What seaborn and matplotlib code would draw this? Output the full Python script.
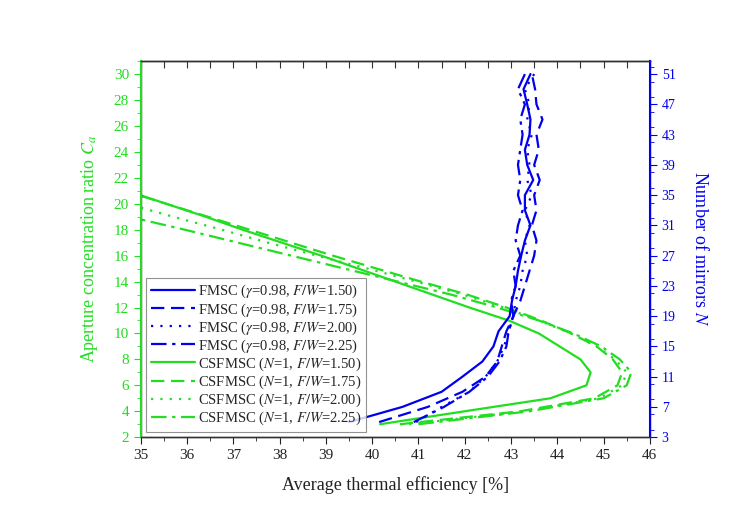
import numpy as np
import pandas as pd
import matplotlib
matplotlib.use('Agg')
import matplotlib.pyplot as plt
import seaborn as sns
from matplotlib.ticker import MultipleLocator

# CSFMSC curves: aperture concentration ratio Ca vs efficiency
ca_values = [3, 4, 5, 6, 7, 8, 9, 10, 11, 12, 13, 14, 15, 16, 17, 18, 19, 20, 21]
eff_cs_150 = [40.17, 42.0, 43.85, 44.63, 44.72, 44.5, 44.05, 43.6, 42.95, 42.1,
              41.3, 40.5, 39.7, 38.9, 38.05, 37.2, 36.4, 35.55, 34.7]
eff_cs_175 = [40.6, 43.2, 44.8, 45.3, 45.4, 45.2, 44.85, 44.3, 43.65, 42.9,
              42.05, 41.05, 40.1, 39.15, 38.25, 37.35, 36.45, 35.55, 34.65]
eff_cs_200 = [40.8, 43.3, 44.9, 45.4, 45.5, 45.25, 44.85, 44.3, 43.6, 42.85,
              41.95, 40.95, 39.9, 38.8, 37.75, 36.75, 35.7, 34.7, 33.7]
eff_cs_225 = [41.0, 43.4, 45.0, 45.5, 45.6, 45.35, 44.95, 44.35, 43.6, 42.7,
              41.7, 40.55, 39.4, 38.25, 37.1, 35.95, 34.75, 33.6, 32.4]

# FMSC curves: number of mirrors N vs efficiency
n_values = [5, 7, 9, 11, 13, 15, 17, 19, 21, 23, 25, 27, 29, 31, 33, 35, 37, 39,
            41, 43, 45, 47, 49, 51]
eff_fm_150 = [39.5, 40.65, 41.5, 41.95, 42.38, 42.62, 42.73, 42.97, 43.02, 43.1,
              43.15, 43.22, 43.3, 43.42, 43.3, 43.3, 43.48, 43.35, 43.3, 43.4,
              43.42, 43.35, 43.27, 43.42]
eff_fm_175 = [40.15, 41.2, 41.95, 42.45, 42.7, 42.8, 42.9, 43.05, 43.2, 43.3,
              43.4, 43.5, 43.55, 43.45, 43.55, 43.5, 43.62, 43.5, 43.6, 43.55,
              43.68, 43.55, 43.52, 43.45]
eff_fm_200 = [40.95, 41.5, 42.1, 42.45, 42.7, 42.85, 42.95, 43.05, 43.1, 43.2,
              43.25, 43.35, 43.3, 43.4, 43.3, 43.45, 43.35, 43.4, 43.35, 43.45,
              43.35, 43.4, 43.3, 43.5]
eff_fm_225 = [40.9, 41.55, 42.1, 42.5, 42.75, 42.9, 42.95, 43.05, 43.0, 43.1,
              43.05, 43.2, 43.1, 43.15, 43.25, 43.15, 43.2, 43.15, 43.2, 43.25,
              43.2, 43.3, 43.15, 43.3]

fw_labels = ['1.50', '1.75', '2.00', '2.25']
dash_styles = [None, (6, 3), (1, 3.2), (7, 2.5, 1.5, 2.5)]

BLUE = '#0000ee'
GREEN = '#22dd22'

sns.set_style('white')
plt.rcParams['font.family'] = ['Liberation Serif', 'DejaVu Serif']
plt.rcParams['mathtext.fontset'] = 'stix'

fig = plt.figure(figsize=(7.41, 5.18), dpi=100)
ax = fig.add_axes([0.190, 0.156, 0.687, 0.726])
ax2 = ax.twinx()

handles = []
for effs, fw, ds in zip([eff_fm_150, eff_fm_175, eff_fm_200, eff_fm_225], fw_labels, dash_styles):
    df = pd.DataFrame({'eff': effs, 'N': n_values})
    sns.lineplot(data=df, x='eff', y='N', ax=ax2, sort=False, estimator=None,
                 color=BLUE, lw=1.6, legend=False)
    line = ax2.lines[-1]
    if ds is not None:
        line.set_dashes(ds)
    line.set_label(r'FMSC ($\gamma$=0.98, $F/W$=' + fw + ')')
    handles.append(line)

for effs, fw, ds in zip([eff_cs_150, eff_cs_175, eff_cs_200, eff_cs_225], fw_labels, dash_styles):
    df = pd.DataFrame({'eff': effs, 'Ca': ca_values})
    sns.lineplot(data=df, x='eff', y='Ca', ax=ax, sort=False, estimator=None,
                 color=GREEN, lw=1.6, legend=False)
    line = ax.lines[-1]
    if ds is not None:
        line.set_dashes(ds)
    line.set_label(r'CSFMSC ($N$=1, $F/W$=' + fw + ')')
    handles.append(line)

for a in (ax, ax2):
    if a.get_legend() is not None:
        a.get_legend().remove()

ax.set_xlim(35, 46)
ax.set_ylim(2, 31)
ax2.set_ylim(3, 3 + 29 * 48 / 28)

ax.xaxis.set_major_locator(MultipleLocator(1))
ax.xaxis.set_minor_locator(MultipleLocator(0.5))
ax.yaxis.set_major_locator(MultipleLocator(2))
ax.yaxis.set_minor_locator(MultipleLocator(1))
ax2.set_yticks(np.arange(3, 52, 4))
ax2.yaxis.set_minor_locator(MultipleLocator(2))

ax.tick_params(axis='x', which='both', direction='out', bottom=True, top=False,
               labelsize=11, colors='#222222')
ax.tick_params(axis='x', which='major', length=5)
ax.tick_params(axis='x', which='minor', length=3)
ax.tick_params(axis='y', which='both', direction='out', left=True, colors=GREEN,
               labelsize=11)
ax.tick_params(axis='y', which='major', length=5)
ax.tick_params(axis='y', which='minor', length=3)
ax2.tick_params(axis='y', which='both', direction='out', right=True, colors=BLUE,
                labelsize=10)
ax2.tick_params(axis='y', which='major', length=5)
ax2.tick_params(axis='y', which='minor', length=3)

# inward ticks on the top spine, no labels
top = ax.secondary_xaxis('top')
top.xaxis.set_major_locator(MultipleLocator(0.5))
top.tick_params(axis='x', direction='in', length=5, labeltop=False, colors='#333333')
top.spines['top'].set_color('#333333')

ax.set_xlabel('Average thermal efficiency [%]', fontsize=13, color='#222222', labelpad=10)
ax.set_ylabel(r'Aperture concentration ratio $C_a$', fontsize=13, color=GREEN, labelpad=10)
ax2.set_ylabel(r'Number of mirrors $N$', fontsize=13, color=BLUE, rotation=270, labelpad=24)
ax2.set_xlabel('')

for a in (ax, ax2):
    for s in a.spines.values():
        s.set_color('#333333')
        s.set_linewidth(1.0)
ax2.spines['left'].set_color(GREEN)
ax2.spines['left'].set_linewidth(1.5)
ax2.spines['right'].set_color(BLUE)
ax2.spines['right'].set_linewidth(1.5)

leg = ax2.legend(handles=handles, loc='lower left', fontsize=10.5, frameon=True,
                 handlelength=3.0, handletextpad=0.2, borderaxespad=0.35,
                 labelspacing=0.05, borderpad=0.35, fancybox=False)
leg.get_frame().set_edgecolor('#777777')
leg.get_frame().set_linewidth(0.8)
leg.set_zorder(10)

fig.savefig('out.png', dpi=100)
